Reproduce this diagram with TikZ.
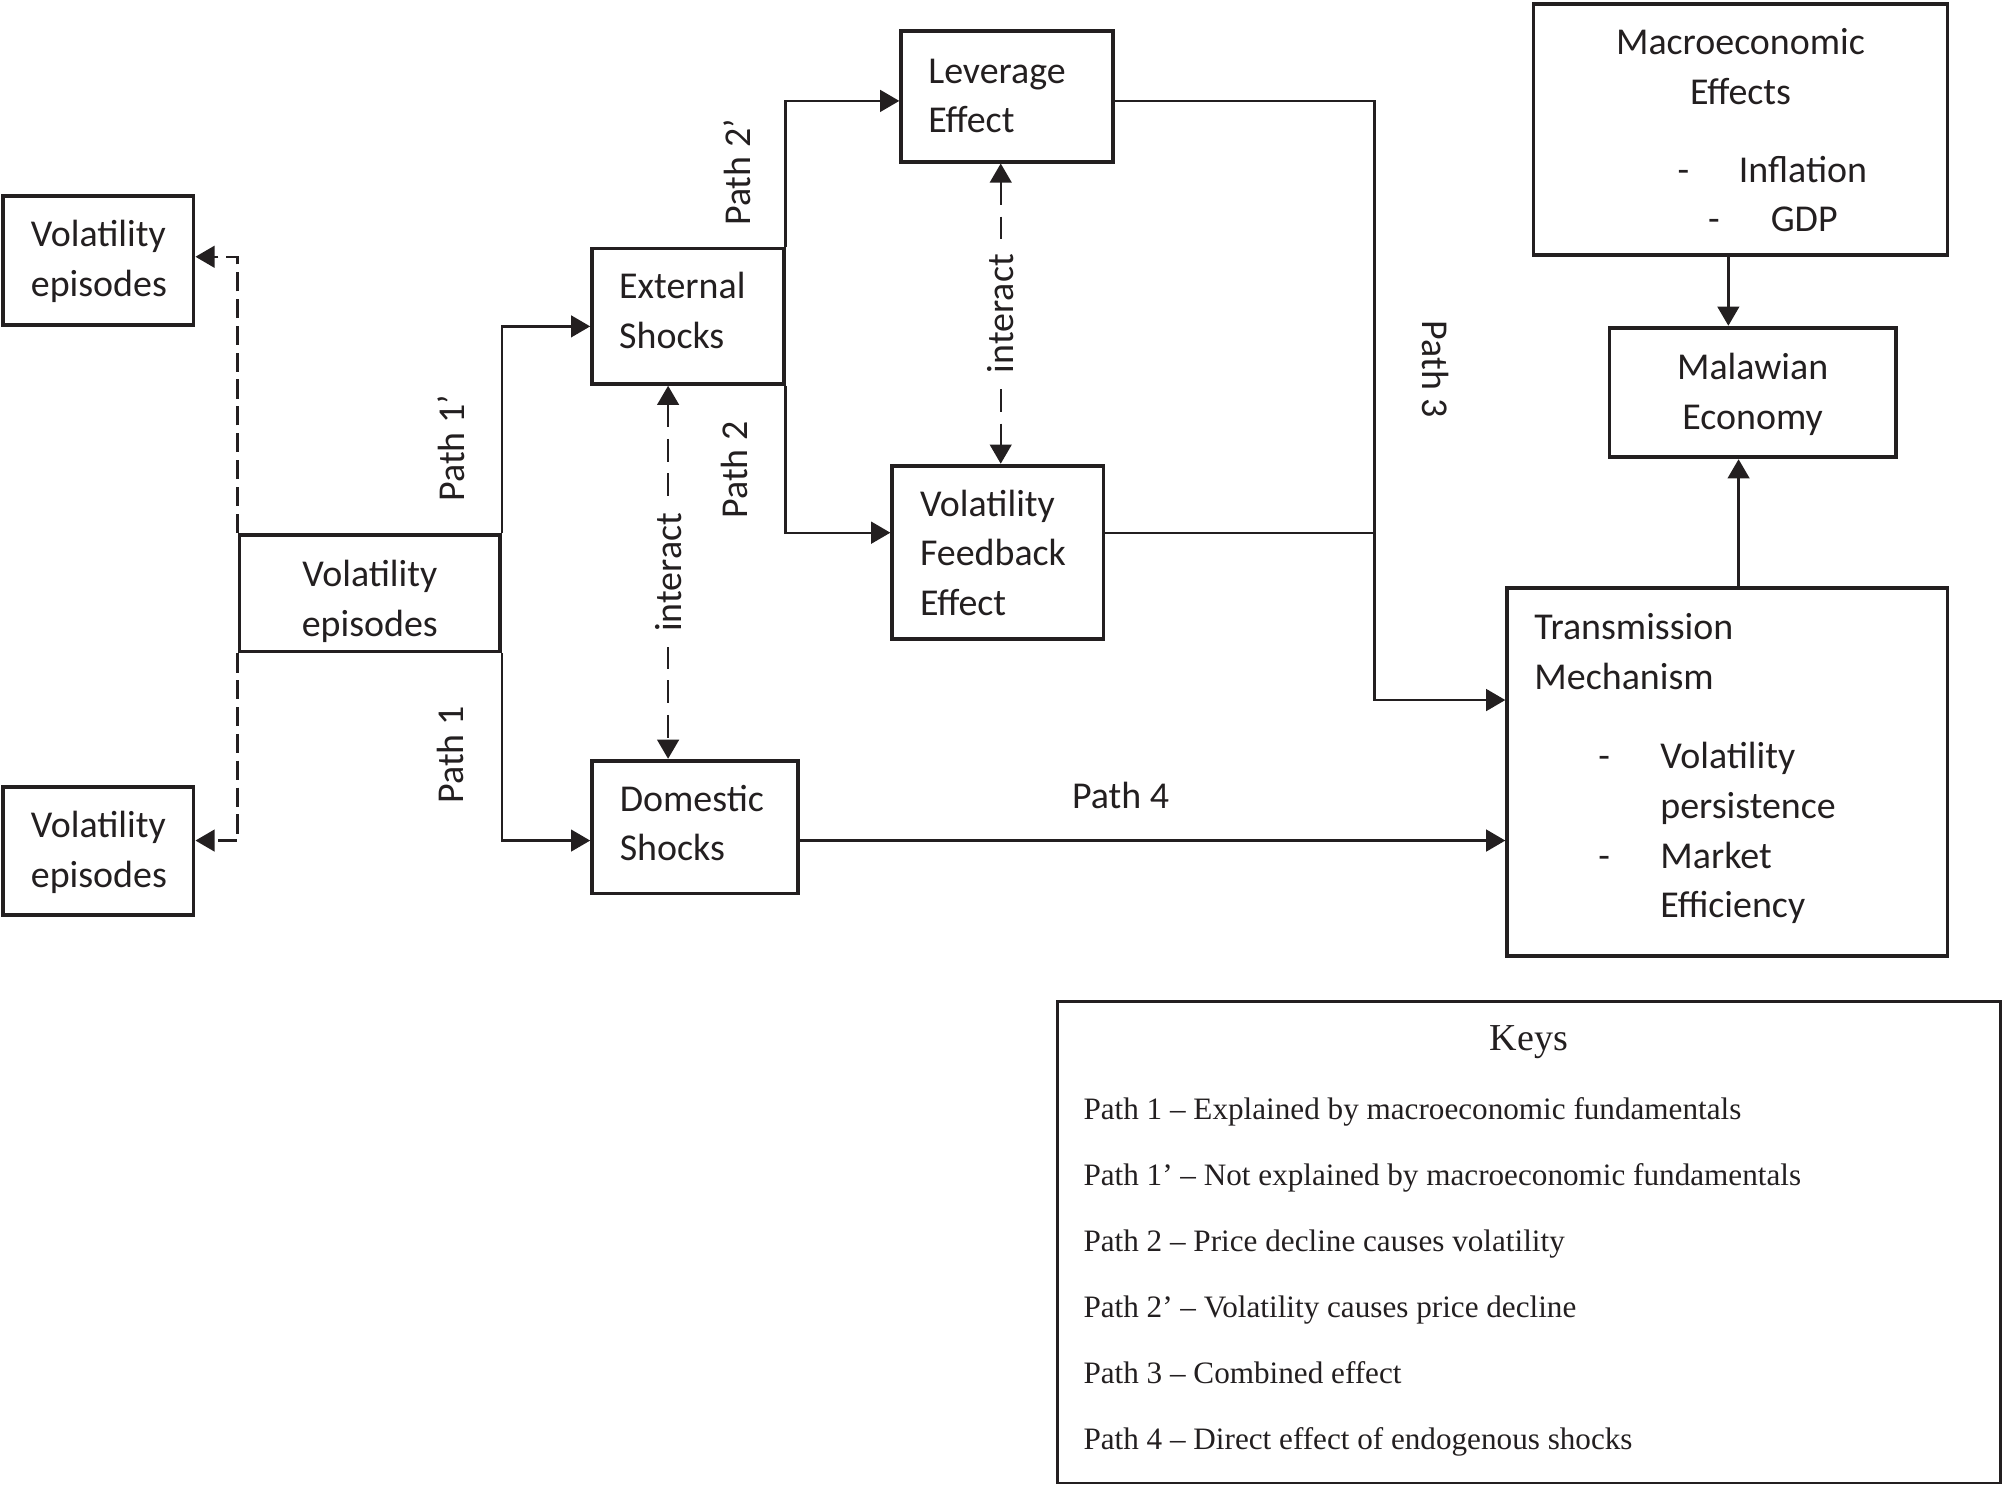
\documentclass[tikz,border=0pt]{standalone}
\usepackage{fontspec}
\setmainfont{Carlito}
\newfontfamily\keyfont{Liberation Serif}
\usetikzlibrary{arrows.meta}
\definecolor{ink}{HTML}{231F20}
\begin{document}
\begin{tikzpicture}[x=1pt,y=-1pt,
  box/.style={draw=ink, line width=3pt, rectangle, inner sep=0pt},
  txt/.style={font=\fontsize{29.7}{39}\selectfont, text=ink, inner sep=0pt},
  plab/.style={font=\fontsize{29.7}{39}\selectfont, text=ink, inner sep=0pt},
  ilab/.style={font=\fontsize{29.7}{39}\selectfont, text=ink, fill=white, rotate=90, inner xsep=12pt, inner ysep=3pt},
  conn/.style={draw=ink, line width=1.8pt},
  tipe/.tip={Triangle[length=15pt,width=17pt]},
  arr/.style={-tipe},
  dbl/.style={tipe-tipe},
  dshA/.style={dash pattern=on 15pt off 6pt},
  dshB/.style={dash pattern=on 18pt off 9pt},
  kt/.style={font=\keyfont\fontsize{24.4}{51.8}\selectfont, text=ink, inner sep=0pt}
]
\useasboundingbox (0,0) rectangle (1568,1164);

% boxes
\node[box, minimum width=149pt, minimum height=101pt] (ve1) at (77,204) {};
\node[box, minimum width=149pt, minimum height=100pt] (ve2) at (77,666) {};
\node[box, minimum width=204pt, minimum height=91.5pt] (ve) at (289.5,464.25) {};
\node[box, minimum width=150pt, minimum height=106pt] (ext) at (538.5,247.5) {};
\node[box, minimum width=161.5pt, minimum height=104pt] (dom) at (544.25,647.5) {};
\node[box, minimum width=166pt, minimum height=102pt] (lev) at (788.5,75.5) {};
\node[box, minimum width=165.4pt, minimum height=136pt] (vfe) at (781.2,432.5) {};
\node[box, minimum width=324pt, minimum height=196.6pt] (mac) at (1362.5,101.2) {};
\node[box, minimum width=224pt, minimum height=101.5pt] (mal) at (1372,307.25) {};
\node[box, minimum width=344.6pt, minimum height=288pt] (tm) at (1352.2,604.5) {};
\node[draw=ink, line width=2pt, inner sep=0pt, minimum width=738pt, minimum height=377pt] (keys) at (1197,972.5) {};

% box texts (anchor = baseline of the last line)
\node[txt, anchor=base west, align=left] (ve1t) at (24,232) {Volatility\\episodes};
\node[txt, anchor=base west, align=left] (ve2t) at (24,694.5) {Volatility\\episodes};
\node[txt, anchor=base, align=center] (vet) at (289.5,498) {Volatility\\episodes};
\node[txt, anchor=base west, align=left] (extt) at (484.5,273) {External\\Shocks};
\node[txt, anchor=base west, align=left] (domt) at (485,674) {Domestic\\Shocks};
\node[txt, anchor=base west, align=left] (levt) at (726.5,104) {Leverage\\Effect};
\node[txt, anchor=base west, align=left] (vfet) at (720,482) {Volatility\\Feedback\\Effect};
\node[txt, anchor=base, align=center] (mact) at (1362.5,82) {Macroeconomic\\Effects};
\node[txt, anchor=base west] (macd1) at (1313,143) {-};
\node[txt, anchor=base west] (maci) at (1361,143) {Inflation};
\node[txt, anchor=base west] (macd2) at (1337,181) {-};
\node[txt, anchor=base west] (macg) at (1386,181) {GDP};
\node[txt, anchor=base, align=center] (malt) at (1372,336) {Malawian\\Economy};
\node[txt, anchor=base west, align=left] (tmt) at (1201,540) {Transmission\\Mechanism};
\node[txt, anchor=base west] (tmd1) at (1251,601.6) {-};
\node[txt, anchor=base west] (tmd2) at (1251,680) {-};
\node[txt, anchor=base west, align=left] (tml) at (1299.6,718.6) {Volatility\\persistence\\Market\\Efficiency};

% routing coordinates
\coordinate (r79) at (0,79);
\coordinate (r201) at (0,201);
\coordinate (r256) at (0,255.5);
\coordinate (r417) at (0,417);
\coordinate (r548) at (0,548);
\coordinate (r658) at (0,658);
\coordinate (c523) at (523,0);
\coordinate (c783) at (783.4,0);
\coordinate (c1076) at (1076,0);
\coordinate (c1353) at (1353,0);
\coordinate (c1361) at (1361,0);

% connectors
\draw[conn, dshA, arr] (ve.north west) |- (ve1.east |- r201);
\draw[conn, dshA, arr] (ve.south west) |- (ve2.east |- r658);
\draw[conn, arr] (ve.north east) |- (ext.west |- r256);
\draw[conn, arr] (ve.south east) |- (dom.west |- r658);
\draw[conn, arr] (ext.north east) |- (lev.west |- r79);
\draw[conn, arr] (ext.south east) |- (vfe.west |- r417);
\draw[conn, arr] (lev.east |- r79) -| (c1076 |- r548) -- (tm.west |- r548);
\draw[conn] (vfe.east |- r417) -- (c1076 |- r417);
\draw[conn, arr] (dom.east |- r658) -- (tm.west |- r658);
\draw[conn, arr] (mac.south -| c1353) -- (mal.north -| c1353);
\draw[conn, arr] (tm.north -| c1361) -- (mal.south -| c1361);
\draw[conn, dshB, dbl] (ext.south -| c523) -- node[ilab] (int1) {interact} (dom.north -| c523);
\draw[conn, dshB, dbl] (lev.south -| c783) -- node[ilab] (int2) {interact} (vfe.north -| c783);

% path labels
\node[plab, rotate=90] (p2b) at (577,135) {Path 2’};
\node[plab, rotate=90] (p2) at (575,368) {Path 2};
\node[plab, rotate=90] (p1b) at (353,351) {Path 1’};
\node[plab, rotate=90] (p1) at (353,591) {Path 1};
\node[plab, rotate=-90] (p3) at (1123.5,289) {Path 3};
\node[txt, anchor=base west] (p4) at (839,633) {Path 4};

% keys
\node[kt, anchor=base, font=\keyfont\fontsize{29.8}{34}\selectfont] (keyst) at (1197,822.5) {Keys};
\node[kt, anchor=base west, align=left] (keyl) at (848,1135) {Path 1 – Explained by macroeconomic fundamentals\\
Path 1’ – Not explained by macroeconomic fundamentals\\
Path 2 – Price decline causes volatility\\
Path 2’ – Volatility causes price decline\\
Path 3 – Combined effect\\
Path 4 – Direct effect of endogenous shocks};
\end{tikzpicture}
\end{document}
